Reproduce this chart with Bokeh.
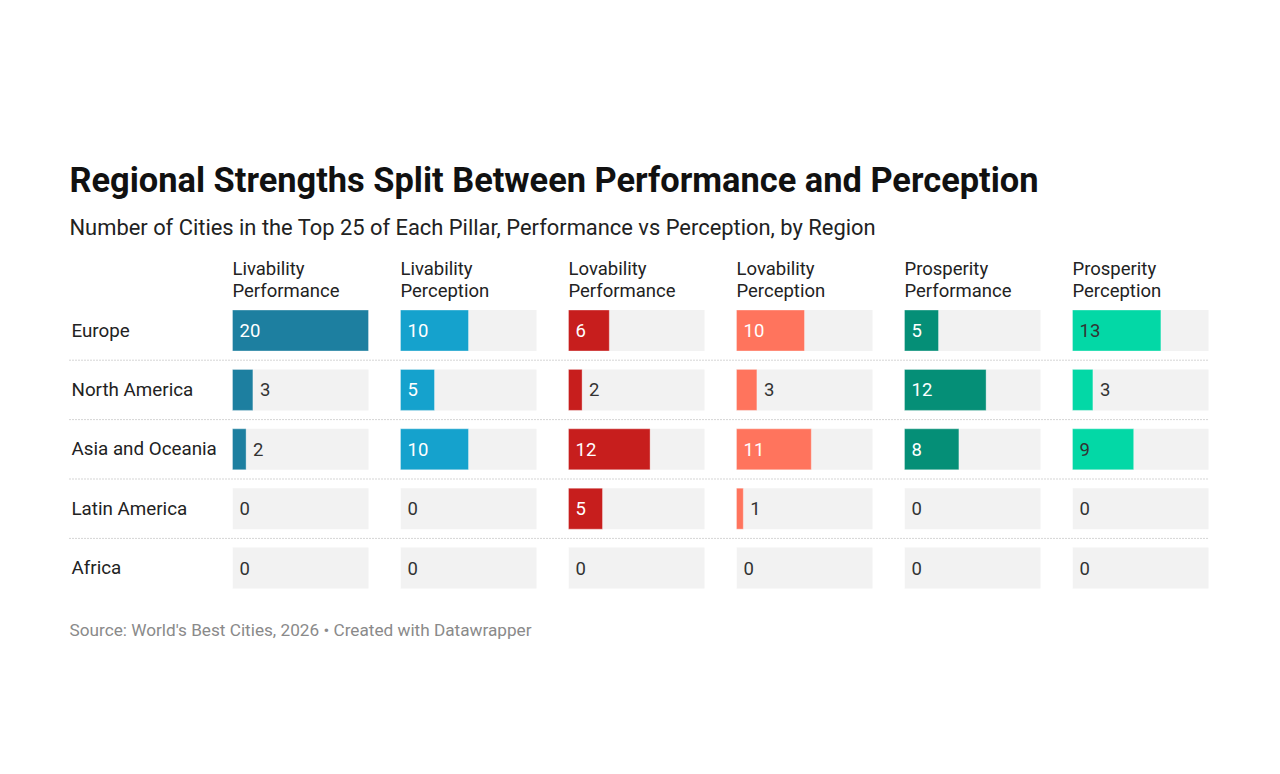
from bokeh.plotting import figure
from bokeh.models import Range1d, ColumnDataSource
from bokeh.core.properties import value
from bokeh.embed import file_html
from bokeh.resources import INLINE

# ---- data ----
regions = ["Europe", "North America", "Asia and Oceania", "Latin America", "Africa"]
pillar_top = ["Livability", "Livability", "Lovability", "Lovability", "Prosperity", "Prosperity"]
pillar_bottom = ["Performance", "Perception", "Performance", "Perception", "Performance", "Perception"]
livability_performance = [20, 3, 2, 0, 0]
livability_perception = [10, 5, 10, 0, 0]
lovability_performance = [6, 2, 12, 5, 0]
lovability_perception = [10, 3, 11, 1, 0]
prosperity_performance = [5, 12, 8, 0, 0]
prosperity_perception = [13, 3, 9, 0, 0]
scale_max = 20

series = [livability_performance, livability_perception, lovability_performance,
          lovability_perception, prosperity_performance, prosperity_perception]
colors = ["#1d7fa0", "#15a2cd", "#c71e1d", "#ff745d", "#058f77", "#03d8a6"]
light = [False, False, False, False, False, True]

TITLE = "Regional Strengths Split Between Performance and Perception"
SUBTITLE = "Number of Cities in the Top 25 of Each Pillar, Performance vs Perception, by Region"
SOURCE = "Source: World's Best Cities, 2026 \u2022 Created with Datawrapper"

FONT = value("Roboto")
W, H = 1264, 758

p = figure(width=W, height=H, x_range=Range1d(-7, W - 7), y_range=Range1d(H - 8, -8),
           output_backend="svg", toolbar_location=None, min_border=0,
           x_axis_location=None, y_axis_location=None)
p.grid.visible = False
p.outline_line_color = None
p.background_fill_color = "white"
p.border_fill_color = "white"

rows = list(range(len(regions)))
row_src = Range1d(-0.5, len(regions) - 0.5)
row_tgt = Range1d(322 - 29.7, 322 + 4 * 59.4 + 29.7)

# titles
p.text(x=[62], y=[171], text=[TITLE], text_font=FONT, text_font_size="34.4px",
       text_font_style="bold", text_color="#111111", text_baseline="middle")
p.text(x=[62], y=[218.5], text=[SUBTITLE], text_font=FONT, text_font_size="21.9px",
       text_color="#222222", text_baseline="middle")
p.text(x=[62], y=[621.5], text=[SOURCE], text_font=FONT, text_font_size="17.2px",
       text_color="#8a8a8a", text_baseline="middle")

# separators + row labels
full = p.subplot(x_source=Range1d(0, 1), y_source=row_src,
                 x_target=Range1d(62, 1202), y_target=row_tgt)
sep_y = [r + 0.5 for r in rows[:-1]]
full.segment(x0=[0] * len(sep_y), x1=[1] * len(sep_y), y0=sep_y, y1=sep_y,
             line_color="#aaaaaa", line_width=1, line_dash="1 2")
full.text(x=[0] * len(regions), y=rows, text=regions, x_offset=2,
          text_font=FONT, text_font_size="18.8px", text_color="#222222",
          text_baseline="middle")

col_w = 136
col_pitch = 168
for i, vals in enumerate(series):
    x0 = 225 + col_pitch * i
    # header
    p.text(x=[x0], y=[260.7], text=[pillar_top[i]], text_font=FONT, text_font_size="18.5px",
           text_color="#222222", text_baseline="middle")
    p.text(x=[x0], y=[282], text=[pillar_bottom[i]], text_font=FONT, text_font_size="18.5px",
           text_color="#222222", text_baseline="middle")

    sub = p.subplot(x_source=Range1d(0, scale_max), y_source=row_src,
                    x_target=Range1d(x0, x0 + col_w), y_target=row_tgt)
    sub.hbar(y=rows, left=0, right=scale_max, height=0.69, fill_color="#f2f2f2", line_color=None)
    sub.hbar(y=rows, left=0, right=vals, height=0.69, fill_color=colors[i],
             line_color="white", line_alpha=0.35, line_width=1)

    inside = [v >= 4 for v in vals]
    lx = [0 if ins else v for v, ins in zip(vals, inside)]
    lc = [("#333333" if light[i] else "white") if ins else "#333333" for ins in inside]
    src = ColumnDataSource(dict(x=lx, y=rows, t=[str(v) for v in vals], c=lc))
    sub.text(x="x", y="y", text="t", source=src, x_offset=7, text_color="c",
             text_font=FONT, text_font_size="18.5px", text_baseline="middle")

open("out.html", "w").write(file_html(p, INLINE))
